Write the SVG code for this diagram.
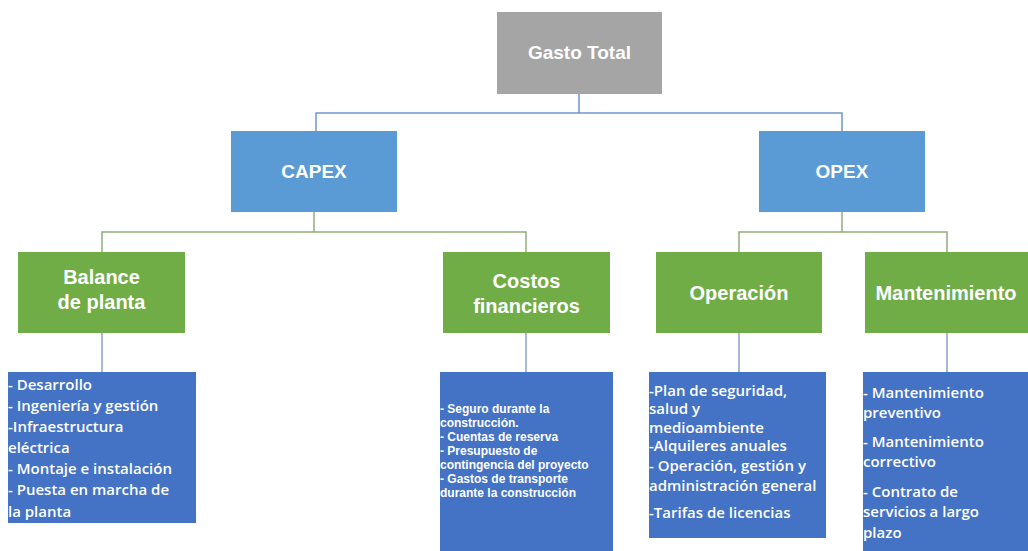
<svg xmlns="http://www.w3.org/2000/svg" width="1028" height="551" viewBox="0 0 1028 551">
<style>
.hd{font-family:"Liberation Sans",Arial,sans-serif;font-weight:bold;fill:#fff;text-anchor:middle}
.tx{font-family:"Open Sans","Liberation Sans",sans-serif;fill:#fff;font-size:15px;font-weight:600}
.sm{font-family:"Liberation Sans",Arial,sans-serif;fill:#fff;font-size:12px;font-weight:bold}
.c1{stroke:#7096CC;stroke-width:1.5;fill:none}
.c2{stroke:#8EAD78;stroke-width:1.5;fill:none}
.c3{stroke:#6A88C4;stroke-width:1.2;fill:none}
</style>
<rect width="1028" height="551" fill="#fff"/>
<g id="connectors">
<path class="c1" d="M579 94V113M316 131V113H842V131"/>
<path class="c2" d="M314 212V232M102 252V232H526V252"/>
<path class="c2" d="M842 212V232M739 252V232H947V252"/>
<path class="c3" d="M102 333V372M526 333V372M739 333V372M947 333V372"/>
</g>
<g id="gasto-total"><rect x="497" y="12" width="165" height="82" fill="#A5A5A5"/><text class="hd" x="579.5" y="59" font-size="19">Gasto Total</text></g>
<g id="capex"><rect x="231" y="131" width="166" height="81" fill="#5B9BD5"/><text class="hd" x="314" y="178" font-size="19">CAPEX</text></g>
<g id="opex"><rect x="759" y="131" width="166" height="81" fill="#5B9BD5"/><text class="hd" x="842" y="178" font-size="19">OPEX</text></g>
<g id="balance"><rect x="18" y="252" width="167" height="81" fill="#70AD47"/><text class="hd" x="101.5" y="284" font-size="20">Balance</text><text class="hd" x="101.5" y="309" font-size="20">de planta</text></g>
<g id="costos"><rect x="443" y="252" width="167" height="81" fill="#70AD47"/><text class="hd" x="526.5" y="288" font-size="20">Costos</text><text class="hd" x="526.5" y="313" font-size="20">financieros</text></g>
<g id="operacion"><rect x="656" y="252" width="166" height="81" fill="#70AD47"/><text class="hd" x="739" y="300" font-size="20">Operación</text></g>
<g id="mantenimiento"><rect x="865" y="252" width="165" height="81" fill="#70AD47"/><text class="hd" x="946" y="300" font-size="20">Mantenimiento</text></g>
<g id="balance-list"><rect x="8" y="372" width="188" height="151" fill="#4472C4"/>
<text class="tx"><tspan x="8" y="390">- Desarrollo</tspan><tspan x="8" y="411">- Ingeniería y gestión</tspan><tspan x="8" y="432">-Infraestructura</tspan><tspan x="8" y="453">eléctrica</tspan><tspan x="8" y="474">- Montaje e instalación</tspan><tspan x="8" y="495">- Puesta en marcha de</tspan><tspan x="8" y="517">la planta</tspan></text></g>
<g id="costos-list"><rect x="440" y="372" width="173" height="179" fill="#4472C4"/>
<text class="sm"><tspan x="440" y="413">- Seguro durante la</tspan><tspan x="440" y="427">construcción.</tspan><tspan x="440" y="441">- Cuentas de reserva</tspan><tspan x="440" y="455">- Presupuesto de</tspan><tspan x="440" y="469">contingencia del proyecto</tspan><tspan x="440" y="483">- Gastos de transporte</tspan><tspan x="440" y="497">durante la construcción</tspan></text></g>
<g id="operacion-list"><rect x="649" y="372" width="177" height="166" fill="#4472C4"/>
<text class="tx"><tspan x="649" y="396">-Plan de seguridad,</tspan><tspan x="649" y="414">salud y</tspan><tspan x="649" y="433">medioambiente</tspan><tspan x="649" y="451">-Alquileres anuales</tspan><tspan x="649" y="471">- Operación, gestión y</tspan><tspan x="649" y="491">administración general</tspan><tspan x="649" y="518">-Tarifas de licencias</tspan></text></g>
<g id="mantenimiento-list"><rect x="863" y="372" width="165" height="179" fill="#4472C4"/>
<text class="tx"><tspan x="863" y="398">- Mantenimiento</tspan><tspan x="863" y="418">preventivo</tspan><tspan x="863" y="447">- Mantenimiento</tspan><tspan x="863" y="467">correctivo</tspan><tspan x="863" y="497">- Contrato de</tspan><tspan x="863" y="517">servicios a largo</tspan><tspan x="863" y="538">plazo</tspan></text></g>
</svg>
